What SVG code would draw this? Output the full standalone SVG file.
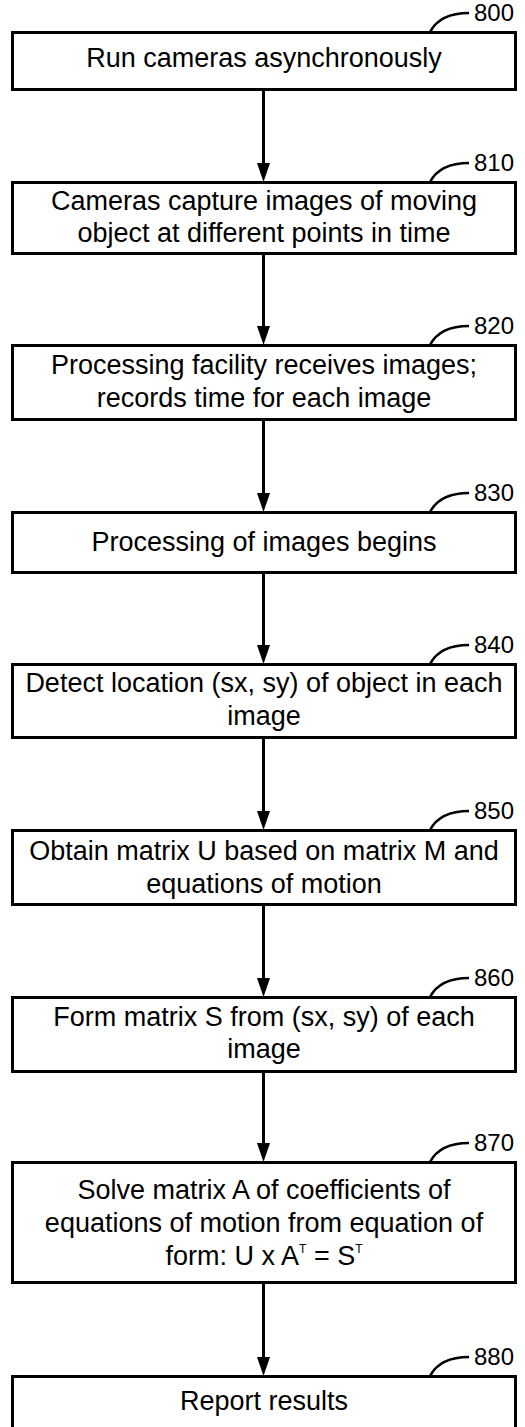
<svg xmlns="http://www.w3.org/2000/svg" width="525" height="1427" viewBox="0 0 525 1427">
<style>
.box{fill:#fff;stroke:#000;stroke-width:3}
.t{font-family:"Liberation Sans",Arial,sans-serif;font-size:27px;fill:#000;text-anchor:middle}
.ref{font-family:"Liberation Sans",Arial,sans-serif;font-size:24px;fill:#000}
.lead{fill:none;stroke:#000;stroke-width:2.5}
.conn{stroke:#000;stroke-width:3;fill:none}
.head{fill:#000}
</style>
<rect width="525" height="1427" fill="#fff"/>
<g id="connectors">
<line class="conn" x1="263.5" y1="90" x2="263.5" y2="165"/><polygon class="head" points="257,163 270,163 263.5,182"/>
<line class="conn" x1="263.5" y1="254" x2="263.5" y2="328"/><polygon class="head" points="257,326 270,326 263.5,345"/>
<line class="conn" x1="263.5" y1="420" x2="263.5" y2="495"/><polygon class="head" points="257,493 270,493 263.5,512"/>
<line class="conn" x1="263.5" y1="573" x2="263.5" y2="647"/><polygon class="head" points="257,645 270,645 263.5,664"/>
<line class="conn" x1="263.5" y1="738" x2="263.5" y2="813"/><polygon class="head" points="257,811 270,811 263.5,830"/>
<line class="conn" x1="263.5" y1="905" x2="263.5" y2="980"/><polygon class="head" points="257,978 270,978 263.5,997"/>
<line class="conn" x1="263.5" y1="1072" x2="263.5" y2="1145"/><polygon class="head" points="257,1143 270,1143 263.5,1162"/>
<line class="conn" x1="263.5" y1="1283" x2="263.5" y2="1359"/><polygon class="head" points="257,1357 270,1357 263.5,1376"/>
</g>
<g id="n800">
<rect class="box" x="12.5" y="32.5" width="503" height="57"/>
<text class="t" x="264" y="67">Run cameras asynchronously</text>
<path class="lead" d="M430,32 Q440,13 469,13"/>
<text class="ref" x="474" y="21">800</text>
</g>
<g id="n810">
<rect class="box" x="12.5" y="182.5" width="503" height="71"/>
<text class="t" x="264" y="210">Cameras capture images of moving</text>
<text class="t" x="264" y="242">object at different points in time</text>
<path class="lead" d="M430,182 Q440,163 469,163"/>
<text class="ref" x="474" y="171">810</text>
</g>
<g id="n820">
<rect class="box" x="12.5" y="345.5" width="503" height="74"/>
<text class="t" x="264" y="374">Processing facility receives images;</text>
<text class="t" x="264" y="407">records time for each image</text>
<path class="lead" d="M430,345 Q440,326 469,326"/>
<text class="ref" x="474" y="334">820</text>
</g>
<g id="n830">
<rect class="box" x="12.5" y="512.5" width="503" height="60"/>
<text class="t" x="264" y="551">Processing of images begins</text>
<path class="lead" d="M430,512 Q440,493 469,493"/>
<text class="ref" x="474" y="501">830</text>
</g>
<g id="n840">
<rect class="box" x="12.5" y="664.5" width="503" height="73"/>
<text class="t" x="264" y="692">Detect location (sx, sy) of object in each</text>
<text class="t" x="264" y="725">image</text>
<path class="lead" d="M430,664 Q440,645 469,645"/>
<text class="ref" x="474" y="653">840</text>
</g>
<g id="n850">
<rect class="box" x="12.5" y="830.5" width="503" height="74"/>
<text class="t" x="264" y="860">Obtain matrix U based on matrix M and</text>
<text class="t" x="264" y="893">equations of motion</text>
<path class="lead" d="M430,830 Q440,811 469,811"/>
<text class="ref" x="474" y="819">850</text>
</g>
<g id="n860">
<rect class="box" x="12.5" y="997.5" width="503" height="74"/>
<text class="t" x="264" y="1026">Form matrix S from (sx, sy) of each</text>
<text class="t" x="264" y="1058">image</text>
<path class="lead" d="M430,997 Q440,978 469,978"/>
<text class="ref" x="474" y="986">860</text>
</g>
<g id="n870">
<rect class="box" x="12.5" y="1162.5" width="503" height="120"/>
<text class="t" x="264" y="1199">Solve matrix A of coefficients of</text>
<text class="t" x="264" y="1232">equations of motion from equation of</text>
<text class="t" x="264" y="1265">form: U x A<tspan font-size="12" dy="-12">T</tspan><tspan dy="12"> = S</tspan><tspan font-size="12" dy="-12">T</tspan></text>
<path class="lead" d="M430,1162 Q440,1143 469,1143"/>
<text class="ref" x="474" y="1151">870</text>
</g>
<g id="n880">
<rect class="box" x="12.5" y="1376.5" width="503" height="70"/>
<text class="t" x="264" y="1410">Report results</text>
<path class="lead" d="M430,1376 Q440,1357 469,1357"/>
<text class="ref" x="474" y="1365">880</text>
</g>
</svg>
